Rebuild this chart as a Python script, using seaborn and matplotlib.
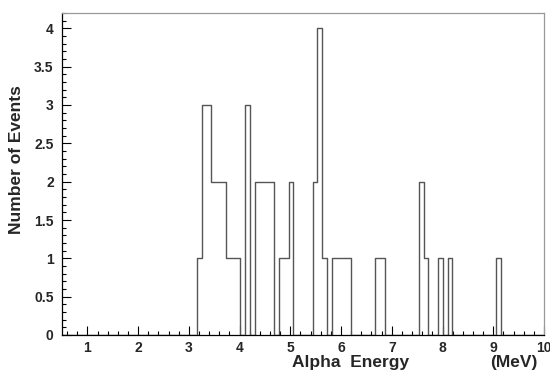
import numpy as np
import pandas as pd
import seaborn as sns
import matplotlib.pyplot as plt
from matplotlib.ticker import MultipleLocator

# bin centres (MeV) of the non-empty bins and their contents
energy = [3.21, 3.30, 3.40, 3.49, 3.59, 3.68, 3.78, 3.87, 3.97, 4.16,
          4.35, 4.44, 4.54, 4.63, 4.82, 4.92, 5.01, 5.49, 5.58, 5.68,
          5.87, 5.96, 6.06, 6.15, 6.72, 6.82, 7.58, 7.67, 7.96, 8.15,
          9.10]
counts = [1, 3, 3, 2, 2, 2, 1, 1, 1, 3,
          2, 2, 2, 2, 1, 1, 2, 2, 4, 1,
          1, 1, 1, 1, 1, 1, 2, 1, 1, 1,
          1]

x_min, x_max, n_bins = 0.5, 10.0, 100
y_max = 4.2
x_ticks = [1, 2, 3, 4, 5, 6, 7, 8, 9, 10]
y_ticks = [0, 0.5, 1, 1.5, 2, 2.5, 3, 3.5, 4]
y_ticklabels = ["0", "0.5", "1", "1.5", "2", "2.5", "3", "3.5", "4"]


def main():
    sns.set_style("ticks")
    plt.rcParams["font.family"] = ["Liberation Sans", "DejaVu Sans"]
    plt.rcParams["font.weight"] = "bold"

    df = pd.DataFrame({"energy": energy, "counts": counts})

    fig = plt.figure(figsize=(5.5, 3.76), dpi=100)
    ax = fig.add_axes([62 / 550, 1 - 335 / 376, 482 / 550, 322 / 376])

    sns.histplot(data=df, x="energy", weights="counts",
                 bins=n_bins, binrange=(x_min, x_max),
                 element="step", fill=False, color="#555555",
                 linewidth=1.0, ax=ax)

    ax.set_xlim(x_min, x_max)
    ax.set_ylim(0, y_max)

    ax.set_xticks(x_ticks)
    ax.set_xticklabels([str(t) for t in x_ticks])
    ax.xaxis.set_minor_locator(MultipleLocator(0.2))
    ax.set_yticks(y_ticks)
    ax.set_yticklabels(y_ticklabels)
    ax.yaxis.set_minor_locator(MultipleLocator(0.1))

    ax.tick_params(which="both", direction="in", top=False, right=False,
                   color="black", width=0.8)
    ax.tick_params(which="major", length=6.5)
    ax.tick_params(which="minor", length=3)
    ax.tick_params(axis="x", which="major", labelsize=10, pad=4)
    ax.tick_params(axis="y", which="major", labelsize=10, pad=6)

    # ROOT-like frame: dark axes, lighter top/right border
    for side, col in [("left", "black"), ("bottom", "black"),
                      ("top", "#999999"), ("right", "#999999")]:
        ax.spines[side].set_visible(True)
        ax.spines[side].set_color(col)
        ax.spines[side].set_linewidth(0.9)

    ax.set_xlabel("")
    ax.set_ylabel("")
    fig.text(351 / 550, 1 - 363 / 376, "Alpha  Energy", ha="center",
             va="center", fontsize=12.5, fontweight="bold")
    fig.text(514 / 550, 1 - 363 / 376, "(MeV)", ha="center",
             va="center", fontsize=12.5, fontweight="bold")
    fig.text(17 / 550, 1 - 160 / 376, "Number of Events", ha="center",
             va="center", rotation=90, fontsize=12.5, fontweight="bold")

    fig.savefig("out.png", dpi=100)
    plt.close(fig)


if __name__ == "__main__":
    main()
